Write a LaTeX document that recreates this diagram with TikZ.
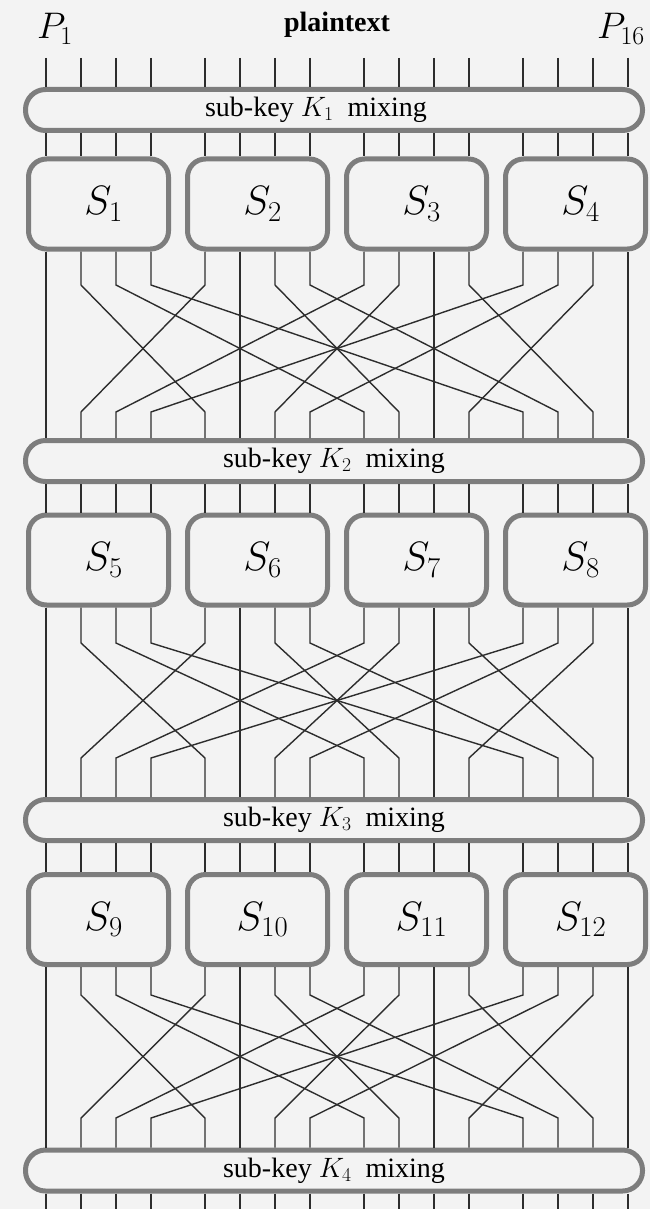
\RequirePackage{fix-cm}
\documentclass[tikz,border=0pt]{standalone}
\usepackage{fontspec}
\setmainfont{Liberation Serif}
\usetikzlibrary{calc}
\definecolor{bg}{RGB}{243,243,243}
\definecolor{boxc}{RGB}{125,125,125}
\definecolor{wirec}{RGB}{45,45,45}
\tikzset{
  sbox/.style={draw=boxc, line width=5pt, rounded corners=18pt, minimum width=140pt, minimum height=90pt, inner sep=0pt, font=\fontsize{41}{41}\selectfont},
  kbox/.style={draw=boxc, line width=5pt, rounded corners=20pt, minimum width=617pt, minimum height=41pt, inner sep=0pt, font=\fontsize{28}{28}\selectfont},
  wire/.style={draw=wirec, line width=1.4pt},
  plab/.style={inner sep=0pt, font=\fontsize{37}{37}\selectfont},
  tlab/.style={inner sep=0pt, font=\fontsize{28}{28}\selectfont\bfseries}
}
\begin{document}
\begin{tikzpicture}[x=1pt,y=-1pt]
\path[fill=bg] (0,0) rectangle (650,1209);
\useasboundingbox (0,0) rectangle (650,1209);
% top labels
\node[plab] (P1) at (55,29) {$P_1$};
\node[tlab] (pt) at (337,25) {plaintext};
\node[plab] (P16) at (621,29) {$P_{16}$};
% key mixing boxes
\node[kbox] (k1) at (334,110) {sub-key $K_1$~~mixing\hspace*{36pt}};
\node[kbox] (k2) at (334,461) {sub-key $K_2$~~mixing};
\node[kbox] (k3) at (334,820) {sub-key $K_3$~~mixing};
\node[kbox] (k4) at (334,1170.5) {sub-key $K_4$~~mixing};
% S-boxes
\foreach \r/\y in {1/204,2/560,3/919.5}{
  \foreach \g in {0,...,3}{
    \pgfmathtruncatemacro{\n}{4*(\r-1)+\g+1}
    \node[sbox] (s\r\g) at (98.5+159*\g,\y) {\hspace*{10pt}$S_{\n}$};
  }
}
% wire coordinates and straight wires
\foreach \g in {0,...,3}{
  \foreach \k in {0,...,3}{
    \pgfmathsetmacro{\X}{46+159*\g+35*\k}
    \coordinate (t\g\k) at (\X,58);
    \coordinate (b\g\k) at (\X,1209);
    \draw[wire] (t\g\k) -- (k1.north -| t\g\k);
    \draw[wire] (k4.south -| t\g\k) -- (b\g\k);
    \foreach \r in {1,2,3}{
      \draw[wire] (k\r.south -| t\g\k) -- (s\r\g.north -| t\g\k);
    }
  }
}
% permutations
\foreach \r/\ya/\yb in {1/285/412,2/643/758,3/995/1118}{
  \pgfmathtruncatemacro{\rn}{\r+1}
  \foreach \g in {0,...,3}{
    \foreach \k in {0,...,3}{
      \draw[wire] (s\r\g.south -| t\g\k) -- (t\g\k |- 0,\ya) -- (t\k\g |- 0,\yb) -- (k\rn.north -| t\k\g);
    }
  }
}
\end{tikzpicture}
\end{document}
